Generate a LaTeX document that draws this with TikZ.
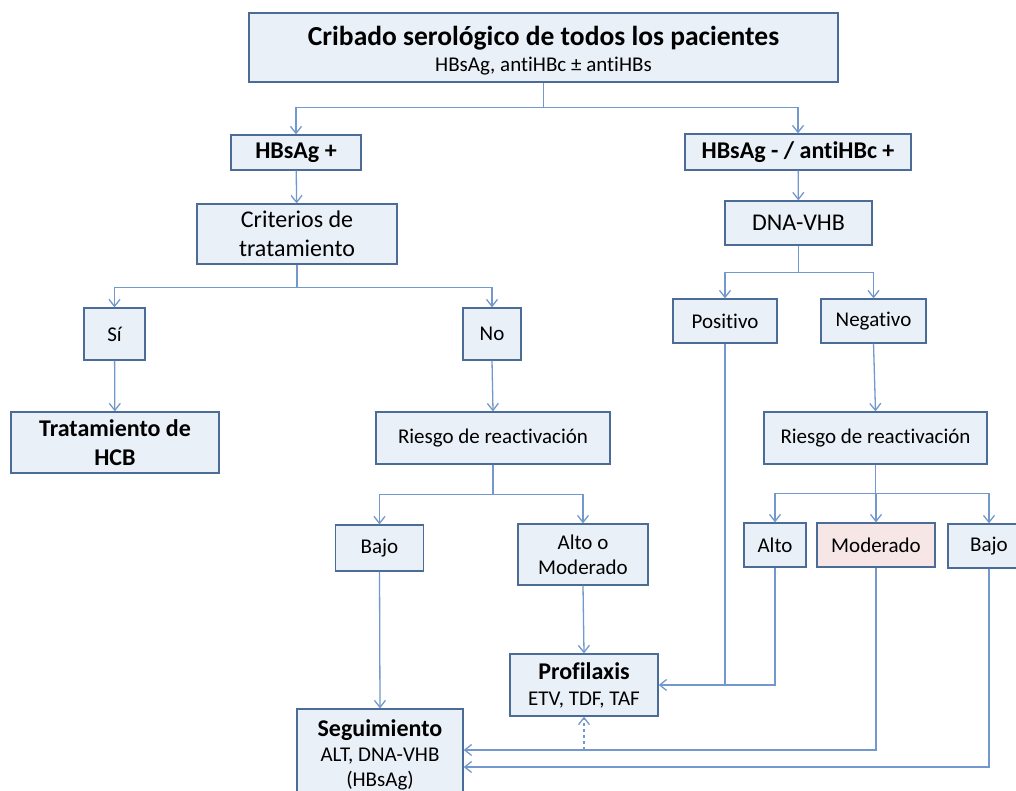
\documentclass[tikz,border=0pt]{standalone}
\usepackage{fontspec}
\setmainfont[RawFeature=-liga]{Carlito}
\usetikzlibrary{arrows.meta}

\definecolor{boxfill}{HTML}{EAF0F8}
\definecolor{boxline}{HTML}{4C6C98}
\definecolor{pinkfill}{HTML}{F6E7E6}
\definecolor{linecol}{HTML}{7298CD}

\begin{document}
\begin{tikzpicture}[x=1pt,y=-1pt,every node/.style={draw=boxline,fill=boxfill,
                      line width=1.2pt,inner sep=0pt,align=center,
                      font=\fontsize{21}{25}\selectfont},
    sz/.style 2 args={minimum width=#1pt,minimum height=#2pt},
    big/.style={font=\fontsize{24}{29}\selectfont},
    head/.style={font=\bfseries\fontsize{24}{29}\selectfont},
    conn/.style={draw=linecol,line width=1.3pt,-{Straight Barb[length=7pt,width=11pt]}},
    link/.style={draw=linecol,line width=1.3pt}]
    \useasboundingbox (0,0) rectangle (1016,791);

    \node[sz={589}{69}] (cribado) at (543.5,47.5)
      {\bfseries\fontsize{27.5}{30}\selectfont\rule{0pt}{25pt}Cribado serológico de todos los pacientes\\[1pt]
       \mdseries\fontsize{21}{25}\selectfont HBsAg, antiHBc ± antiHBs};

    \node[head,sz={130}{35}] (hbpos) at (296,152.5) {HBsAg +};
    \node[head,sz={226}{36}] (hbneg) at (798,152) {HBsAg - / antiHBc +};
    \node[big,sz={200}{60}] (criterios) at (297,234) {Criterios de\\tratamiento};
    \node[big,sz={147}{44}] (dna) at (798.5,223) {DNA-VHB};
    \node[sz={61}{52}] (si) at (114.5,334) {Sí};
    \node[sz={58}{52}] (no) at (492,334) {No};
    \node[sz={104}{44}] (positivo) at (725,321) {Positivo};
    \node[sz={105}{44}] (negativo) at (873.5,321) {Negativo};
    \node[head,sz={208}{61}] (tratam) at (115,442.5) {Tratamiento de\\HCB};
    \node[sz={234}{52}] (riesgoI) at (493,438) {Riesgo de reactivación};
    \node[sz={223}{52}] (riesgoD) at (875.5,438) {Riesgo de reactivación};
    \node[sz={88}{46}] (bajoI) at (379.5,548) {Bajo};
    \node[sz={130}{61}] (altomod) at (583,554.5) {Alto o\\Moderado};
    \node[sz={62}{44}] (alto) at (775,545) {Alto};
    \node[sz={118}{44},fill=pinkfill] (moderado) at (876,545) {Moderado};
    \node[sz={82}{44}] (bajoD) at (989,546) {Bajo};
    \node[sz={148}{62}] (profilaxis) at (584,685)
      {\bfseries\fontsize{24}{27}\selectfont Profilaxis\\[1pt]ETV, TDF, TAF};
    \node[sz={166}{92}] (seguim) at (380,755)
      {\bfseries\fontsize{24}{28}\selectfont Seguimiento\\ALT, DNA-VHB\\(HBsAg)};

    \coordinate (segA) at ([yshift=5pt]seguim.east);
    \coordinate (segB) at ([yshift=-12pt]seguim.east);

    \draw[conn] (cribado.south) -- ++(0,25) -| (hbpos.north);
    \draw[conn] (cribado.south) -- ++(0,25) -| (hbneg.north);
    \draw[conn] (hbpos) -- (criterios);
    \draw[conn] (hbneg) -- (dna);
    \draw[conn] (criterios.south) -- ++(0,23) -| (si.north);
    \draw[conn] (criterios.south) -- ++(0,23) -| (no.north);
    \draw[conn] (si) -- (tratam);
    \draw[conn] (no.south) -- (riesgoI.north);
    \draw[conn] (riesgoI.south) -- ++(0,30) -| (bajoI.north);
    \draw[conn] (riesgoI.south) -- ++(0,30) -| (altomod.north);
    \draw[conn] (dna.south) -- ++(0,27) -| (positivo.north);
    \draw[conn] (dna.south) -- ++(0,27) -| (negativo.north);
    \draw[conn] (negativo.south) -- (riesgoD.north);
    \draw[conn] (riesgoD.south) -- ++(0,29) -| (alto.north);
    \draw[conn] (riesgoD.south) -- ++(0,29) -| (moderado.north);
    \draw[conn] (riesgoD.south) -- ++(0,29) -| (bajoD.north);
    \draw[conn] (altomod.south) -- (profilaxis.north);
    \draw[conn] (bajoI.south) -- (seguim.north);
    \draw[conn] (positivo.south) |- (profilaxis.east);
    \draw[link] (alto.south) |- (positivo.south |- profilaxis.east);
    \draw[conn] (moderado.south) |- (segA);
    \draw[conn] (bajoD.south) |- (segB);
    \draw[conn,dashed] (segA -| profilaxis.south) -- (profilaxis.south);
  \end{tikzpicture}
\end{document}
